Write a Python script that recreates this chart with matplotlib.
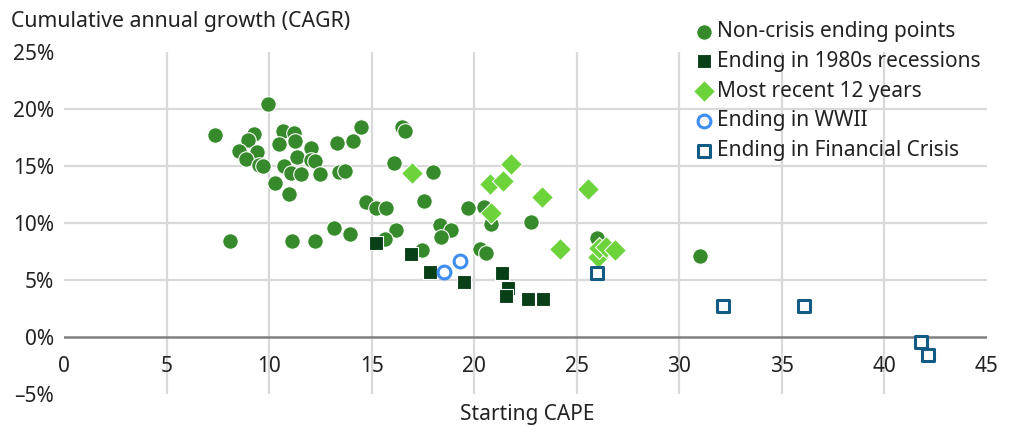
import matplotlib.pyplot as plt

plt.rcParams['font.family'] = ['Noto Sans', 'DejaVu Sans']

# Starting CAPE (x) and CAGR in % (y)
noncrisis_x = [9.95, 7.38, 9.28, 8.99, 8.52, 9.43, 8.89, 9.49, 9.69, 10.7, 11.2,
               10.47, 11.24, 12.05, 11.37, 12.05, 12.26, 10.75, 11.09, 11.58, 12.49,
               10.27, 10.98, 13.32, 14.09, 14.49, 13.43, 13.71, 14.72, 15.19, 15.68,
               16.09, 16.5, 16.65, 13.16, 13.97, 16.17, 15.63, 8.11, 11.14, 12.23,
               17.57, 17.46, 17.98, 19.69, 20.5, 20.81, 22.78, 18.32, 18.87, 18.4,
               20.31, 20.57, 25.99, 31.02]
noncrisis_y = [20.4, 17.7, 17.8, 17.3, 16.3, 16.2, 15.6, 15.1, 15.0, 18.1, 17.9,
               16.9, 17.2, 16.6, 15.8, 15.5, 15.4, 15.0, 14.4, 14.3, 14.3,
               13.5, 12.5, 17.0, 17.2, 18.4, 14.5, 14.6, 11.8, 11.3, 11.3,
               15.3, 18.4, 18.1, 9.6, 9.0, 9.4, 8.6, 8.4, 8.4, 8.4,
               11.9, 7.6, 14.5, 11.3, 11.4, 9.9, 10.1, 9.8, 9.4, 8.8,
               7.7, 7.4, 8.7, 7.1]

recession_x = [15.23, 16.9, 17.85, 19.49, 21.35, 21.64, 21.56, 22.62, 23.35]
recession_y = [8.2, 7.3, 5.7, 4.8, 5.6, 4.3, 3.6, 3.3, 3.3]

recent_x = [16.98, 20.81, 21.8, 20.75, 21.4, 23.3, 25.53, 24.17, 26.02, 26.07, 26.41, 26.87]
recent_y = [14.4, 10.9, 15.2, 13.4, 13.7, 12.3, 13.0, 7.7, 7.0, 7.8, 7.9, 7.6]

wwii_x = [19.31, 18.53]
wwii_y = [6.7, 5.7]

crisis_x = [25.99, 32.15, 36.07, 41.77, 42.14]
crisis_y = [5.6, 2.75, 2.75, -0.4, -1.6]

x_ticks = [0, 5, 10, 15, 20, 25, 30, 35, 40, 45]
y_ticks = [-5, 0, 5, 10, 15, 20, 25]

fig = plt.figure(figsize=(10.1, 4.26), dpi=100)
ax = fig.add_axes([0.0634, 0.0751, 0.9136, 0.803])

for x in x_ticks[1:-1]:
    ax.axvline(x, color='#d9d9d9', lw=1.6, zorder=0)
for y in [5, 10, 15, 20]:
    ax.axhline(y, color='#d9d9d9', lw=1.6, zorder=0)
ax.axhline(0, color='#808080', lw=1.8, zorder=1)

ax.scatter(noncrisis_x, noncrisis_y, s=125, marker='o', color='#378a2b',
           edgecolors='white', linewidths=0.8, zorder=3, label='Non-crisis ending points')
ax.scatter(recession_x, recession_y, s=100, marker='s', color='#073f17',
           edgecolors='white', linewidths=0.8, zorder=4, label='Ending in 1980s recessions')
ax.scatter(recent_x, recent_y, s=125, marker='D', color='#6cd33b',
           edgecolors='white', linewidths=0.8, zorder=4, label='Most recent 12 years')
ax.scatter(wwii_x, wwii_y, s=85, marker='o', facecolors='white',
           edgecolors='#3d8ef0', linewidths=2.2, zorder=4, label='Ending in WWII')
ax.scatter(crisis_x, crisis_y, s=85, marker='s', facecolors='white',
           edgecolors='#125b84', linewidths=2.2, zorder=4, label='Ending in Financial Crisis')

ax.set_xlim(0, 45)
ax.set_ylim(-5, 25)
for s in ax.spines.values():
    s.set_visible(False)
ax.set_yticks(y_ticks)
ax.set_yticklabels([f'{v}%'.replace('-', '\u2013') for v in y_ticks], fontsize=15, color='#222222')
ax.set_xticks([])
ax.tick_params(axis='y', length=0, pad=7)
for x in x_ticks:
    ax.text(x, -2.55, str(x), ha='center', va='center', fontsize=15, color='#222222')

fig.text(0.011, 0.95, 'Cumulative annual growth (CAGR)', fontsize=15.3, color='#222222',
         ha='left', va='center')
fig.text(0.522, 0.028, 'Starting CAPE', fontsize=15, color='#222222', ha='center', va='center')

leg = fig.legend(loc='upper left', bbox_to_anchor=(0.674, 0.975), frameon=False,
                 fontsize=15, handletextpad=0.05, labelspacing=0.42, borderpad=0,
                 handlelength=1.2, scatterpoints=1)
for t in leg.get_texts():
    t.set_color('#222222')

fig.savefig('out.png', dpi=100)
